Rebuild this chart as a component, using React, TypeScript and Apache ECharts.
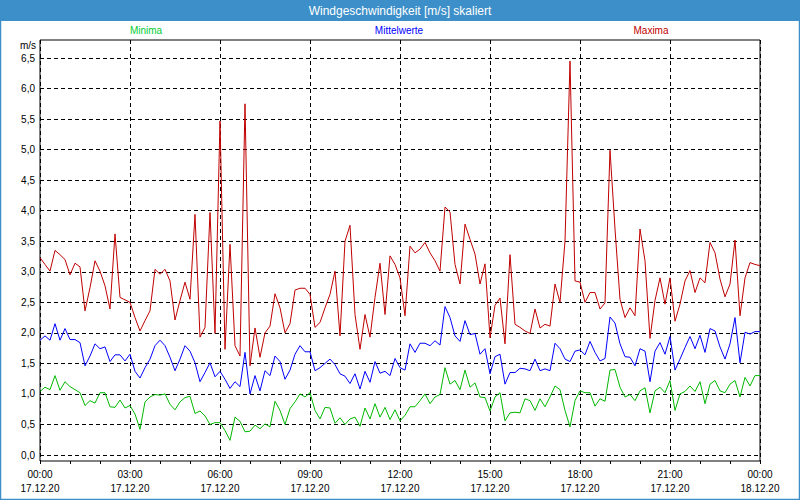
import React, { useEffect, useRef } from "react";
import * as echarts from "echarts";

const STEP_MIN = 10;
const TITLE = "Windgeschwindigkeit [m/s] skaliert";
const SERIES_NAMES = ["Minima", "Mittelwerte", "Maxima"];
const TIME_LABELS = ["00:00", "03:00", "06:00", "09:00", "12:00", "15:00", "18:00", "21:00", "00:00"];
const DATE_LABELS = ["17.12.20", "17.12.20", "17.12.20", "17.12.20", "17.12.20", "17.12.20", "17.12.20", "17.12.20", "18.12.20"];

const maxima = [
  3.23, 3.12, 3.01, 3.35, 3.28, 3.2, 2.95, 3.14, 3.08, 2.36, 2.74, 3.18, 3.01, 2.77, 2.39, 3.62, 2.58, 2.54, 2.5, 2.25, 2.03, 2.2, 2.36, 3.04, 2.96, 3.04, 2.85, 2.21, 2.53, 2.83,
  2.55, 3.94, 1.93, 2.09, 3.97, 1.99, 5.47, 1.73, 3.45, 1.79, 1.62, 5.75, 1.46, 2.08, 1.6, 2.0, 2.11, 2.64, 2.41, 2.0, 2.15, 2.7, 2.73, 2.73, 2.63, 2.09, 2.17, 2.41,
  2.63, 3.01, 1.95, 3.5, 3.76, 2.3, 1.73, 2.3, 1.93, 2.58, 3.14, 2.3, 3.26, 3.12, 2.9, 2.28, 3.42, 3.31, 3.37, 3.48, 3.31, 3.18, 3.01, 4.06, 3.98, 3.12, 2.8, 3.78, 3.53,
  3.29, 2.8, 3.13, 1.92, 2.45, 2.57, 1.82, 3.28, 2.14, 2.09, 2.03, 1.99, 2.39, 2.08, 2.14, 2.11, 2.8, 2.5, 3.5, 6.45, 2.85, 2.83, 2.5, 2.66, 2.66, 2.39, 2.49, 4.99, 3.7,
  2.55, 2.25, 2.41, 2.28, 3.7, 3.18, 1.91, 2.53, 2.9, 2.47, 2.9, 2.19, 2.47, 2.85, 3.02, 2.66, 2.9, 2.82, 3.48, 3.31, 2.88, 2.59, 2.8, 3.52, 2.28, 2.9, 3.15, 3.12, 3.1,
];

const mittelwerte = [
  1.88, 1.95, 1.88, 2.15, 1.88, 2.07, 1.89, 1.89, 1.84, 1.46, 1.62, 1.82, 1.74, 1.77, 1.53, 1.64, 1.64, 1.54, 1.65, 1.37, 1.26, 1.43, 1.57, 1.79, 1.88, 1.79, 1.6, 1.38, 1.57, 1.79,
  1.7, 1.51, 1.2, 1.35, 1.51, 1.28, 1.37, 1.24, 1.09, 1.2, 1.12, 1.68, 1.0, 1.3, 1.05, 1.38, 1.3, 1.62, 1.53, 1.24, 1.39, 1.65, 1.79, 1.69, 1.69, 1.38, 1.43, 1.5,
  1.57, 1.48, 1.33, 1.29, 1.17, 1.33, 1.08, 1.37, 1.19, 1.53, 1.34, 1.37, 1.3, 1.58, 1.43, 1.39, 1.82, 1.68, 1.83, 1.83, 1.79, 1.87, 1.8, 2.43, 2.25, 1.95, 1.86, 2.2, 1.97,
  1.99, 1.65, 1.74, 1.33, 1.61, 1.65, 1.16, 1.35, 1.35, 1.42, 1.41, 1.38, 1.57, 1.38, 1.41, 1.38, 1.83, 1.74, 1.57, 1.53, 1.7, 1.72, 1.64, 1.86, 1.68, 1.54, 1.58, 2.26, 2.16,
  1.82, 1.61, 1.6, 1.46, 1.74, 1.7, 1.2, 1.7, 1.84, 1.65, 1.94, 1.39, 1.57, 1.76, 1.94, 1.74, 1.96, 1.68, 2.07, 2.03, 1.77, 1.57, 1.82, 2.25, 1.51, 2.01, 1.98, 2.02, 2.02,
];

const minima = [
  1.04, 1.11, 1.07, 1.3, 1.06, 1.2, 1.12, 1.07, 1.02, 0.81, 0.89, 0.85, 1.02, 1.02, 0.79, 0.78, 0.9, 0.77, 0.81, 0.67, 0.42, 0.87, 0.95, 0.99, 0.98, 1.0, 0.83, 0.74, 0.87, 0.94,
  0.96, 0.68, 0.72, 0.64, 0.5, 0.53, 0.53, 0.4, 0.24, 0.62, 0.55, 0.38, 0.39, 0.49, 0.43, 0.51, 0.46, 0.88, 0.73, 0.5, 0.76, 0.87, 1.0, 0.95, 1.02, 0.73, 0.59, 0.78,
  0.77, 0.52, 0.61, 0.5, 0.59, 0.62, 0.47, 0.77, 0.59, 0.84, 0.62, 0.78, 0.58, 0.74, 0.56, 0.65, 0.79, 0.79, 0.89, 1.0, 0.84, 0.95, 0.99, 1.43, 1.16, 1.22, 1.07, 1.39, 1.11,
  1.18, 0.95, 0.94, 0.72, 0.95, 1.02, 0.56, 0.69, 0.7, 0.69, 0.92, 0.89, 0.73, 0.92, 0.79, 0.95, 1.13, 1.07, 0.73, 0.46, 0.89, 1.05, 1.02, 1.02, 0.8, 0.92, 0.88, 1.39, 1.4,
  1.11, 0.95, 0.99, 0.89, 1.05, 1.1, 0.69, 1.05, 1.11, 1.02, 1.22, 0.73, 1.0, 1.04, 1.13, 1.04, 1.2, 0.84, 1.16, 1.22, 1.05, 1.02, 1.16, 1.22, 0.95, 1.27, 1.13, 1.3, 1.3,
];

const FONT = "'Liberation Sans', Arial, sans-serif";
const BAR_BLUE = "#3c8fc8";
const RED = "#c00000";
const BLUE = "#0000ff";
const GREEN = "#00b800";

const toPairs = (arr: number[]) => arr.map((v, i) => [i * STEP_MIN, v]);

export default function App() {
  const ref = useRef<HTMLDivElement>(null);
  useEffect(() => {
    if (!ref.current) return;
    const chart = echarts.init(ref.current, undefined, { renderer: "svg" });
    const dash = [4, 3];
    chart.setOption({
      animation: false,
      backgroundColor: "#ffffff",
      grid: [
        { left: 40, right: 40, top: 40, bottom: 39, show: true, borderColor: "#000", borderWidth: 1, backgroundColor: "transparent" },
        { left: 40, right: 40, top: 58, bottom: 45 },
      ],
      xAxis: [
        {
          type: "value",
          gridIndex: 0,
          min: 0,
          max: 1440,
          interval: 180,
          axisLine: { show: false },
          axisTick: { show: true, length: 3, lineStyle: { color: "#000" } },
          minorTick: { show: true, splitNumber: 3, length: 3, lineStyle: { color: "#000" } },
          axisLabel: {
            margin: 6,
            fontFamily: FONT,
            fontSize: 10,
            lineHeight: 14,
            color: "#000",
            formatter: (v: number) => {
              const i = Math.round(v / 180);
              return TIME_LABELS[i] + "\n" + DATE_LABELS[i];
            },
          },
          splitLine: { show: true, lineStyle: { color: "#000", type: dash, width: 1 } },
        },
        { type: "value", gridIndex: 1, min: 0, max: 1440, show: false },
      ],
      yAxis: [
        { type: "value", gridIndex: 0, min: 0, max: 1, show: false },
        {
          type: "value",
          gridIndex: 1,
          min: 0,
          max: 6.5,
          interval: 0.5,
          axisLine: { show: false },
          axisTick: { show: false },
          axisLabel: {
            margin: 5,
            fontFamily: FONT,
            fontSize: 10,
            color: "#000",
            formatter: (v: number) => v.toFixed(1).replace(".", ","),
          },
          splitLine: { show: true, lineStyle: { color: "#000", type: dash, width: 1 } },
        },
      ],
      series: [
        { name: SERIES_NAMES[0], type: "line", xAxisIndex: 1, yAxisIndex: 1, data: toPairs(minima), showSymbol: false, symbol: "none", lineStyle: { color: GREEN, width: 1 }, itemStyle: { color: GREEN }, z: 3 },
        { name: SERIES_NAMES[1], type: "line", xAxisIndex: 1, yAxisIndex: 1, data: toPairs(mittelwerte), showSymbol: false, symbol: "none", lineStyle: { color: BLUE, width: 1 }, itemStyle: { color: BLUE }, z: 3 },
        { name: SERIES_NAMES[2], type: "line", xAxisIndex: 1, yAxisIndex: 1, data: toPairs(maxima), showSymbol: false, symbol: "none", lineStyle: { color: RED, width: 1 }, itemStyle: { color: RED }, z: 3 },
      ],
      graphic: [
        { type: "rect", shape: { x: 0, y: 0, width: 800, height: 21 }, style: { fill: BAR_BLUE }, z: 10 },
        { type: "rect", shape: { x: 0.5, y: 0.5, width: 799, height: 499 }, style: { fill: "none", stroke: BAR_BLUE, lineWidth: 1.5 }, z: 10 },
        { type: "text", x: 400, y: 11, style: { text: TITLE, fill: "#ffffff", font: "12px " + FONT, textAlign: "center", textVerticalAlign: "middle" }, z: 11 },
        { type: "text", x: 146, y: 30, style: { text: SERIES_NAMES[0], fill: "#00cc33", font: "10px " + FONT, textAlign: "center", textVerticalAlign: "middle" }, z: 11 },
        { type: "text", x: 399, y: 30, style: { text: SERIES_NAMES[1], fill: BLUE, font: "10px " + FONT, textAlign: "center", textVerticalAlign: "middle" }, z: 11 },
        { type: "text", x: 651, y: 30, style: { text: SERIES_NAMES[2], fill: RED, font: "10px " + FONT, textAlign: "center", textVerticalAlign: "middle" }, z: 11 },
        { type: "text", x: 36, y: 45, style: { text: "m/s", fill: "#000", font: "10px " + FONT, textAlign: "right", textVerticalAlign: "middle" }, z: 11 },
      ],
    });
    return () => chart.dispose();
  }, []);
  return <div ref={ref} style={{ position: "absolute", left: 0, top: 0, width: 800, height: 500 }} />;
}
